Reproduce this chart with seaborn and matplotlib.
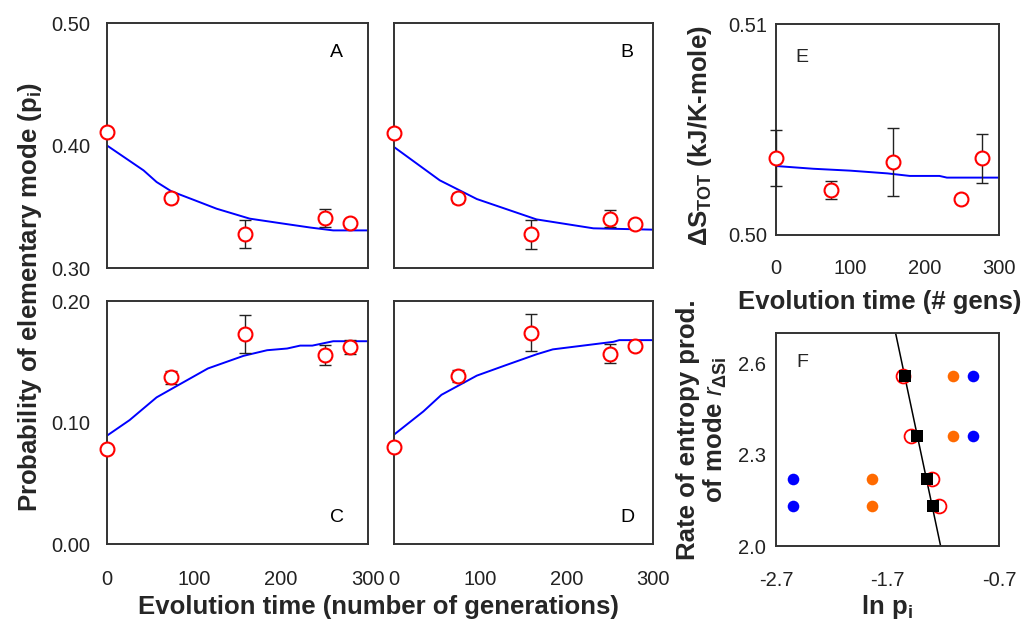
import numpy as np
import matplotlib
matplotlib.use("Agg")
import matplotlib.pyplot as plt
import seaborn as sns

# ---- data ----
gens = [0, 74, 159, 250, 279]

pA = [0.411, 0.357, 0.328, 0.341, 0.3365]
pA_err = [0, 0.004, 0.0115, 0.0072, 0]
fitA_x = [0, 42, 57, 74, 99, 126, 164, 203, 234, 260, 300]
fitA_y = [0.400, 0.3797, 0.3702, 0.3626, 0.3558, 0.3484, 0.3403, 0.3362, 0.3330, 0.3307, 0.3307]

pB = [0.410, 0.357, 0.3275, 0.3403, 0.336]
pB_err = [0, 0.004, 0.012, 0.0067, 0]
fitB_x = [0, 53, 96, 165, 231, 300]
fitB_y = [0.3988, 0.3716, 0.3563, 0.3397, 0.3324, 0.3313]

pC = [0.0782, 0.1373, 0.1729, 0.1557, 0.1622]
pC_err = [0, 0.0055, 0.016, 0.008, 0.006]
fitC_x = [0, 26, 57, 80, 116, 157, 184, 207, 222, 236, 260, 300]
fitC_y = [0.0892, 0.102, 0.1207, 0.130, 0.1445, 0.1549, 0.1595, 0.1609, 0.1633, 0.1633, 0.1669, 0.1669]

pD = [0.0797, 0.1386, 0.1738, 0.1566, 0.1632]
pD_err = [0, 0.005, 0.0153, 0.0079, 0]
fitD_x = [0, 34, 55, 96, 130, 165, 184, 254, 261, 300]
fitD_y = [0.090, 0.1091, 0.1228, 0.1386, 0.1473, 0.1561, 0.1602, 0.1664, 0.1678, 0.1678]

gensE = [0, 73.5, 157, 249, 277.6]
dS = [0.50363, 0.50213, 0.50346, 0.50172, 0.50363]
dS_err = [0.00133, 0.00043, 0.00162, 0, 0.00117]
fitE_x = [0, 50, 100, 150, 180, 220, 230, 300]
fitE_y = [0.50327, 0.50314, 0.50305, 0.50292, 0.50280, 0.50280, 0.50272, 0.50272]

rate_rows = [2.56, 2.36, 2.22, 2.13]
lnp_blue = [-0.93, -0.93, -2.55, -2.55]
lnp_orange = [-1.116, -1.116, -1.84, -1.84]
lnp_open = [-1.558, -1.492, -1.304, -1.235]
lnp_square = [-1.543, -1.438, -1.349, -1.289]
fitF_x = [-1.627, -1.223]
fitF_y = [2.70, 2.00]

# ---- style ----
sns.set_theme(style="white")
plt.rcParams['font.family'] = ['Liberation Sans', 'DejaVu Sans']
plt.rcParams['mathtext.fontset'] = 'custom'
plt.rcParams['mathtext.rm'] = 'Liberation Sans'
plt.rcParams['mathtext.it'] = 'Liberation Sans:italic'
plt.rcParams['mathtext.bf'] = 'Liberation Sans:bold'

LAB = 18.5
TICK = 14.5
LET = 14

fig = plt.figure(figsize=(10.26, 6.24), dpi=100)

axA = fig.add_axes([0.1043, 0.5705, 0.2544, 0.3926])
axB = fig.add_axes([0.3840, 0.5705, 0.2524, 0.3926])
axC = fig.add_axes([0.1043, 0.1282, 0.2544, 0.3894])
axD = fig.add_axes([0.3840, 0.1282, 0.2524, 0.3894])
axE = fig.add_axes([0.7563, 0.6234, 0.2173, 0.3381])
axF = fig.add_axes([0.7563, 0.1250, 0.2173, 0.3413])

tick_col = '#222222'


def frame(ax):
    for s in ax.spines.values():
        s.set_color('#333333')
        s.set_linewidth(1.4)
        s.set_visible(True)
    ax.tick_params(direction='in', length=4, width=0.8, color='#999999',
                   labelsize=TICK, labelcolor=tick_col)


def time_panel(ax, y, err, fx, fy, ylim, letter, lpos):
    frame(ax)
    sns.lineplot(x=fx, y=fy, ax=ax, color='blue', lw=1.4, zorder=2)
    ax.errorbar(gens, y, yerr=err, fmt='none', ecolor='#222222', elinewidth=1,
                capsize=4, capthick=1, zorder=3, clip_on=False)
    sns.scatterplot(x=gens, y=y, ax=ax, marker='o', s=100, facecolor='white',
                    edgecolor='red', linewidth=1.5, zorder=4, clip_on=False)
    ax.set_xlim(0, 300)
    ax.set_ylim(*ylim)
    ax.set_xticks([0, 100, 200, 300])
    ax.set_yticks(np.linspace(ylim[0], ylim[1], 3))
    ax.text(lpos[0], lpos[1], letter, transform=ax.transAxes, fontsize=LET,
            ha='center', va='center', color='black')
    ax.set_xlabel('')
    ax.set_ylabel('')


time_panel(axA, pA, pA_err, fitA_x, fitA_y, (0.30, 0.50), 'A', (0.88, 0.88))
time_panel(axB, pB, pB_err, fitB_x, fitB_y, (0.30, 0.50), 'B', (0.90, 0.88))
time_panel(axC, pC, pC_err, fitC_x, fitC_y, (0.00, 0.20), 'C', (0.88, 0.11))
time_panel(axD, pD, pD_err, fitD_x, fitD_y, (0.00, 0.20), 'D', (0.90, 0.11))

for ax in (axA, axC):
    ax.yaxis.set_major_formatter(matplotlib.ticker.FormatStrFormatter('%.2f'))
    ax.tick_params(axis='y', pad=12)
for ax in (axA, axB):
    ax.tick_params(axis='x', labelbottom=False)
for ax in (axB, axD):
    ax.tick_params(axis='y', labelleft=False)
for ax in (axC, axD):
    ax.tick_params(axis='x', pad=19)

# ---- E ----
frame(axE)
sns.lineplot(x=fitE_x, y=fitE_y, ax=axE, color='blue', lw=1.4, zorder=2)
axE.errorbar(gensE, dS, yerr=dS_err, fmt='none', ecolor='#222222', elinewidth=1,
             capsize=4, capthick=1, zorder=3, clip_on=False)
sns.scatterplot(x=gensE, y=dS, ax=axE, marker='o', s=100, facecolor='white',
                edgecolor='red', linewidth=1.5, zorder=4, clip_on=False)
axE.set_xlim(0, 300)
axE.set_ylim(0.50, 0.51)
axE.set_xticks([0, 100, 200, 300])
axE.set_yticks([0.50, 0.51])
axE.yaxis.set_major_formatter(matplotlib.ticker.FormatStrFormatter('%.2f'))
axE.tick_params(axis='x', pad=17)
axE.tick_params(axis='y', pad=6)
axE.text(0.117, 0.84, 'E', transform=axE.transAxes, fontsize=LET, ha='center', va='center')
axE.set_xlabel('Evolution time (# gens)', fontsize=LAB, fontweight='bold')
axE.set_ylabel('ΔS$_\\mathbf{TOT}$ (kJ/K-mole)', fontsize=LAB, fontweight='bold')
axE.xaxis.set_label_coords(0.466, -0.318)
axE.xaxis.label.set_va('center')
axE.yaxis.set_label_coords(-0.341, 0.47)
axE.yaxis.label.set_va('center')

# ---- F ----
frame(axF)
sns.lineplot(x=fitF_x, y=fitF_y, ax=axF, color='black', lw=1.1, zorder=2)
sns.scatterplot(x=lnp_blue, y=rate_rows, ax=axF, color='#0000ff', s=70,
                linewidth=0, zorder=3)
sns.scatterplot(x=lnp_orange, y=rate_rows, ax=axF, color='#ff6a00', s=70,
                linewidth=0, zorder=3)
sns.scatterplot(x=lnp_open, y=rate_rows, ax=axF, marker='o', s=100, facecolor='white',
                edgecolor='red', linewidth=1.3, zorder=4)
sns.scatterplot(x=lnp_square, y=rate_rows, ax=axF, marker='s', s=80, color='black',
                linewidth=0, zorder=5)
axF.set_xlim(-2.7, -0.7)
axF.set_ylim(2.0, 2.7)
axF.set_xticks([-2.7, -2.2, -1.7, -1.2, -0.7])
axF.set_xticklabels(['-2.7', '', '-1.7', '', '-0.7'])
axF.set_yticks([2.0, 2.3, 2.6])
axF.yaxis.set_major_formatter(matplotlib.ticker.FormatStrFormatter('%.1f'))
axF.tick_params(axis='x', pad=18)
axF.tick_params(axis='y', pad=7)
axF.text(0.117, 0.86, 'F', transform=axF.transAxes, fontsize=LET, ha='center', va='center')
axF.set_xlabel('ln p$_\\mathbf{i}$', fontsize=LAB, fontweight='bold')
axF.set_ylabel('Rate of entropy prod.\nof mode $\\mathit{r}_\\mathbf{ΔSi}$', fontsize=LAB,
               fontweight='bold', linespacing=1.05)
axF.xaxis.set_label_coords(0.498, -0.285)
axF.xaxis.label.set_va('center')
axF.yaxis.set_label_coords(-0.33, 0.545)
axF.yaxis.label.set_va('center')

# ---- shared labels for A-D ----
fig.text(0.029, 0.524, 'Probability of elementary mode (p$_\\mathbf{i}$)', rotation=90,
         fontsize=LAB, fontweight='bold', ha='center', va='center')
fig.text(0.369, 0.027, 'Evolution time (number of generations)', fontsize=LAB,
         fontweight='bold', ha='center', va='center')

fig.savefig('out.png', dpi=100)
